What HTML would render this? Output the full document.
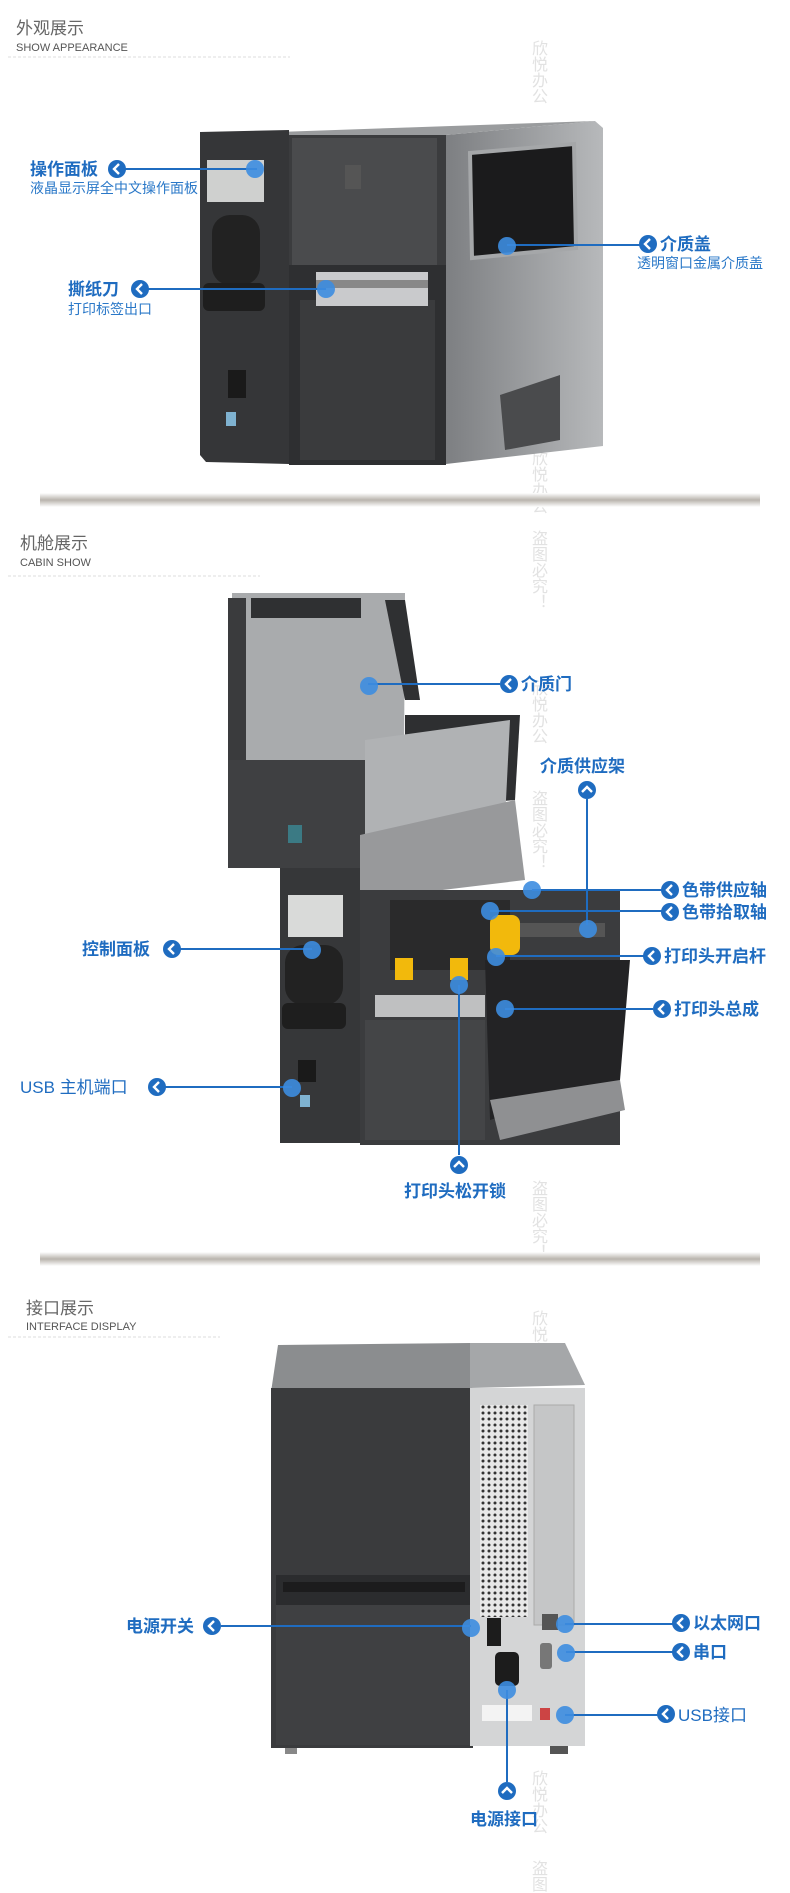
<!DOCTYPE html>
<html><head><meta charset="utf-8"><style>
html,body{margin:0;padding:0;background:#fff;}
body{width:790px;height:1893px;overflow:hidden;position:relative;font-family:"Liberation Sans","Noto Sans CJK SC",sans-serif;}
svg{position:absolute;left:0;top:0;}
.l{font-family:"Liberation Sans","Noto Sans CJK SC",sans-serif;font-weight:bold;fill:#1f6cc0;font-size:17px;}
.s{font-family:"Liberation Sans","Noto Sans CJK SC",sans-serif;fill:#2a78c8;font-size:14px;}
.h{font-family:"Liberation Sans","Noto Sans CJK SC",sans-serif;fill:#666;font-size:17px;}
.e{font-family:"Liberation Sans",sans-serif;fill:#555;font-size:11px;}
.w{font-family:"Noto Sans CJK SC",sans-serif;fill:#e2e2e2;font-size:16px;}
</style></head><body>
<svg width="790" height="1893" viewBox="0 0 790 1893">
<defs>
<linearGradient id="side" x1="0" x2="1"><stop offset="0" stop-color="#7d7f82"/><stop offset="1" stop-color="#b7b9bb"/></linearGradient>
<linearGradient id="shadow" x1="0" x2="0" y1="0" y2="1"><stop offset="0" stop-color="#fff"/><stop offset="0.5" stop-color="#b9b4ad"/><stop offset="1" stop-color="#fff"/></linearGradient>
<pattern id="perf" width="6" height="6" patternUnits="userSpaceOnUse"><rect width="6" height="6" fill="#e8e8e8"/><circle cx="3" cy="3" r="1.5" fill="#333"/></pattern>
<g id="lb"><circle r="9" fill="#1f6cc0"/><polyline points="2,-5 -3,0 2,5" fill="none" stroke="#fff" stroke-width="2.4"/></g>
<g id="up"><circle r="9" fill="#1f6cc0"/><polyline points="-5,2 0,-3 5,2" fill="none" stroke="#fff" stroke-width="2.4"/></g>
<g id="dot"><circle r="9" fill="#3d8de0" opacity="0.9"/></g>
</defs>

<g class="w">
<text x="540" y="40" writing-mode="tb">欣悦办公</text><text x="540" y="130" writing-mode="tb">盗图必究！</text>
<text x="540" y="230" writing-mode="tb">欣悦办公</text><text x="540" y="330" writing-mode="tb">盗图必究！</text>
<text x="540" y="450" writing-mode="tb">欣悦办公</text><text x="540" y="530" writing-mode="tb">盗图必究！</text>
<text x="540" y="680" writing-mode="tb">欣悦办公</text><text x="540" y="790" writing-mode="tb">盗图必究！</text>
<text x="540" y="1080" writing-mode="tb">欣悦办公</text><text x="540" y="1180" writing-mode="tb">盗图必究！</text>
<text x="540" y="1310" writing-mode="tb">欣悦办公</text><text x="540" y="1400" writing-mode="tb">盗图必究！</text>
<text x="540" y="1500" writing-mode="tb">欣悦办公</text><text x="540" y="1600" writing-mode="tb">盗图必究！</text>
<text x="540" y="1770" writing-mode="tb">欣悦办公</text><text x="540" y="1860" writing-mode="tb">盗图</text>
</g>

<!-- Section 1 -->
<text class="h" x="16" y="34">外观展示</text>
<text class="e" x="16" y="51">SHOW APPEARANCE</text>
<line x1="8" y1="57" x2="290" y2="57" stroke="#ddd" stroke-dasharray="3,2"/>

<polygon points="446,135 595,121 603,128 603,446 446,464" fill="url(#side)"/>
<polygon points="278,132 595,121 446,135 289,138" fill="#9a9c9e"/>
<rect x="289" y="135" width="157" height="330" fill="#3b3c3e"/>
<rect x="292" y="138" width="145" height="128" fill="#4a4b4d"/>
<rect x="289" y="265" width="157" height="200" fill="#2e2f31"/>
<rect x="300" y="300" width="135" height="160" fill="#3a3b3d"/>
<rect x="316" y="272" width="112" height="34" fill="#c9cacc"/>
<rect x="316" y="280" width="112" height="8" fill="#888"/>
<rect x="345" y="165" width="16" height="24" fill="#555"/>
<polygon points="200,132 289,130 289,464 206,462 200,455" fill="#353638"/>
<rect x="207" y="160" width="57" height="42" fill="#cfd0cf"/>
<rect x="212" y="215" width="48" height="70" rx="18" fill="#222"/>
<rect x="203" y="283" width="62" height="28" rx="6" fill="#1e1e1e"/>
<rect x="228" y="370" width="18" height="28" fill="#1a1a1a"/>
<rect x="226" y="412" width="10" height="14" fill="#7fb2d0"/>
<polygon points="470,153 574,144 576,248 472,258" fill="#1b1b1c" stroke="#a5a7a9" stroke-width="4"/>
<polygon points="500,395 560,375 560,440 505,450" fill="#4a4b4d"/>

<line x1="125" y1="169" x2="257" y2="169" stroke="#1f6cc0" stroke-width="2"/>
<use href="#dot" x="255" y="169"/>
<text class="l" x="30" y="175">操作面板</text>
<use href="#lb" x="117" y="169"/>
<text class="s" x="30" y="193">液晶显示屏全中文操作面板</text>

<line x1="148" y1="289" x2="326" y2="289" stroke="#1f6cc0" stroke-width="2"/>
<use href="#dot" x="326" y="289"/>
<text class="l" x="68" y="295">撕纸刀</text>
<use href="#lb" x="140" y="289"/>
<text class="s" x="68" y="314">打印标签出口</text>

<line x1="507" y1="245" x2="640" y2="245" stroke="#1f6cc0" stroke-width="2"/>
<use href="#dot" x="507" y="246"/>
<use href="#lb" x="648" y="244"/>
<text class="l" x="660" y="250">介质盖</text>
<text class="s" x="637" y="268">透明窗口金属介质盖</text>

<rect x="40" y="493" width="720" height="14" fill="url(#shadow)"/>

<!-- Section 2 -->
<text class="h" x="20" y="549">机舱展示</text>
<text class="e" x="20" y="566">CABIN SHOW</text>
<line x1="8" y1="576" x2="260" y2="576" stroke="#ddd" stroke-dasharray="3,2"/>

<polygon points="232,593 405,593 404,760 232,765" fill="#a9abad"/>
<polygon points="228,598 246,598 246,760 228,760" fill="#3a3b3d"/>
<polygon points="385,600 405,600 420,700 405,700" fill="#2f3032"/>
<rect x="251" y="598" width="110" height="20" fill="#2f3032"/>
<polygon points="405,715 520,715 515,800 405,810" fill="#2e2f31"/>
<polygon points="365,740 510,720 505,820 365,835" fill="#b0b2b4"/>
<rect x="228" y="760" width="137" height="108" fill="#3f4042"/>
<rect x="288" y="825" width="14" height="18" fill="#3b7a84"/>
<polygon points="360,835 515,800 525,880 360,900" fill="#98999b"/>
<rect x="280" y="868" width="80" height="275" fill="#363739"/>
<rect x="288" y="895" width="55" height="42" fill="#d9dad9"/>
<rect x="285" y="945" width="58" height="60" rx="18" fill="#222"/>
<rect x="282" y="1003" width="64" height="26" rx="6" fill="#1e1e1e"/>
<rect x="298" y="1060" width="18" height="22" fill="#1a1a1a"/>
<rect x="300" y="1095" width="10" height="12" fill="#7fb2d0"/>
<rect x="360" y="890" width="260" height="255" fill="#3b3c3e"/>
<rect x="390" y="900" width="120" height="70" fill="#2a2a2b"/>
<rect x="490" y="915" width="30" height="40" rx="8" fill="#f2b90c"/>
<rect x="520" y="923" width="85" height="14" fill="#555"/>
<rect x="395" y="958" width="18" height="22" fill="#f2b90c"/>
<rect x="450" y="958" width="18" height="22" fill="#f2b90c"/>
<rect x="375" y="995" width="110" height="22" fill="#bfc0c1"/>
<rect x="365" y="1020" width="120" height="120" fill="#444547"/>
<polygon points="485,960 630,960 620,1080 490,1120" fill="#232325"/>
<polygon points="490,1100 620,1080 625,1110 500,1140" fill="#8f9092"/>

<line x1="368" y1="684" x2="500" y2="684" stroke="#1f6cc0" stroke-width="2"/>
<use href="#dot" x="369" y="686"/>
<use href="#lb" x="509" y="684"/>
<text class="l" x="521" y="690">介质门</text>

<text class="l" x="540" y="772">介质供应架</text>
<use href="#up" x="587" y="790"/>
<line x1="587" y1="799" x2="587" y2="925" stroke="#1f6cc0" stroke-width="2"/>
<use href="#dot" x="588" y="929"/>

<line x1="532" y1="890" x2="662" y2="890" stroke="#1f6cc0" stroke-width="2"/>
<use href="#dot" x="532" y="890"/>
<use href="#lb" x="670" y="890"/>
<text class="l" x="682" y="896">色带供应轴</text>
<line x1="490" y1="911" x2="662" y2="911" stroke="#1f6cc0" stroke-width="2"/>
<use href="#dot" x="490" y="911"/>
<use href="#lb" x="670" y="912"/>
<text class="l" x="682" y="918">色带拾取轴</text>

<line x1="180" y1="949" x2="312" y2="949" stroke="#1f6cc0" stroke-width="2"/>
<use href="#dot" x="312" y="950"/>
<text class="l" x="82" y="955">控制面板</text>
<use href="#lb" x="172" y="949"/>

<line x1="496" y1="956" x2="644" y2="956" stroke="#1f6cc0" stroke-width="2"/>
<use href="#dot" x="496" y="957"/>
<use href="#lb" x="652" y="956"/>
<text class="l" x="664" y="962">打印头开启杆</text>

<line x1="505" y1="1009" x2="653" y2="1009" stroke="#1f6cc0" stroke-width="2"/>
<use href="#dot" x="505" y="1009"/>
<use href="#lb" x="662" y="1009"/>
<text class="l" x="674" y="1015">打印头总成</text>

<line x1="165" y1="1087" x2="292" y2="1087" stroke="#1f6cc0" stroke-width="2"/>
<use href="#dot" x="292" y="1088"/>
<text class="l" x="20" y="1093" style="font-weight:normal">USB 主机端口</text>
<use href="#lb" x="157" y="1087"/>

<line x1="459" y1="985" x2="459" y2="1155" stroke="#1f6cc0" stroke-width="2"/>
<use href="#dot" x="459" y="985"/>
<use href="#up" x="459" y="1165"/>
<text class="l" x="404" y="1197">打印头松开锁</text>

<rect x="40" y="1252" width="720" height="14" fill="url(#shadow)"/>

<!-- Section 3 -->
<text class="h" x="26" y="1314">接口展示</text>
<text class="e" x="26" y="1330">INTERFACE DISPLAY</text>
<line x1="8" y1="1337" x2="220" y2="1337" stroke="#ddd" stroke-dasharray="3,2"/>

<polygon points="278,1345 470,1343 472,1388 271,1392" fill="#8b8d8f"/>
<polygon points="470,1343 565,1343 585,1385 470,1388" fill="#a5a7a9"/>
<rect x="271" y="1388" width="202" height="360" fill="#3a3b3d"/>
<rect x="276" y="1575" width="195" height="30" fill="#2b2c2e"/>
<rect x="283" y="1582" width="182" height="10" fill="#1c1c1d"/>
<rect x="276" y="1605" width="195" height="140" fill="#3f4042"/>
<rect x="470" y="1388" width="115" height="358" fill="#d4d5d6"/>
<rect x="480" y="1405" width="48" height="212" fill="url(#perf)"/>
<rect x="534" y="1405" width="40" height="220" fill="#c5c6c7" stroke="#aaa"/>
<rect x="487" y="1618" width="14" height="28" fill="#1c1c1c"/>
<rect x="495" y="1652" width="24" height="34" rx="5" fill="#1c1c1c"/>
<rect x="542" y="1614" width="16" height="16" fill="#555"/>
<rect x="540" y="1643" width="12" height="26" rx="3" fill="#777"/>
<rect x="540" y="1708" width="10" height="12" fill="#c44"/>
<rect x="482" y="1705" width="50" height="16" fill="#f3f3f3"/>
<rect x="285" y="1748" width="12" height="6" fill="#888"/>
<rect x="550" y="1746" width="18" height="8" fill="#555"/>

<line x1="221" y1="1626" x2="471" y2="1626" stroke="#1f6cc0" stroke-width="2"/>
<use href="#dot" x="471" y="1628"/>
<text class="l" x="126" y="1632">电源开关</text>
<use href="#lb" x="212" y="1626"/>

<line x1="565" y1="1624" x2="673" y2="1624" stroke="#1f6cc0" stroke-width="2"/>
<use href="#dot" x="565" y="1624"/>
<use href="#lb" x="681" y="1623"/>
<text class="l" x="693" y="1629">以太网口</text>

<line x1="566" y1="1652" x2="673" y2="1652" stroke="#1f6cc0" stroke-width="2"/>
<use href="#dot" x="566" y="1653"/>
<use href="#lb" x="681" y="1652"/>
<text class="l" x="693" y="1658">串口</text>

<line x1="565" y1="1715" x2="658" y2="1715" stroke="#1f6cc0" stroke-width="2"/>
<use href="#dot" x="565" y="1715"/>
<use href="#lb" x="666" y="1714"/>
<text class="l" x="678" y="1721" style="font-weight:normal">USB接口</text>

<line x1="507" y1="1690" x2="507" y2="1782" stroke="#1f6cc0" stroke-width="2"/>
<use href="#dot" x="507" y="1690"/>
<use href="#up" x="507" y="1791"/>
<text class="l" x="470" y="1825">电源接口</text>
</svg>
</body></html>
